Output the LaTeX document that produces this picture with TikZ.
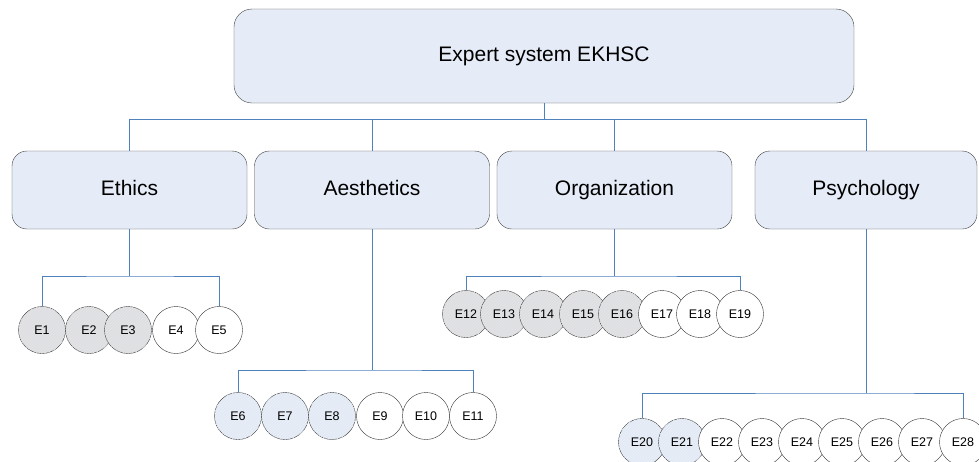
\documentclass[tikz,border=0pt]{standalone}
\usepackage{fontspec}
\setmainfont{Liberation Sans}
\usetikzlibrary{patterns}
\definecolor{boxblue}{RGB}{230,236,247}
\definecolor{linkblue}{RGB}{79,129,189}
\definecolor{donegray}{RGB}{221,223,227}
\definecolor{halfblue}{RGB}{227,233,245}
\tikzset{
  topbox/.style={draw=black!75, fill=boxblue, rounded corners=18pt, minimum width=620pt, minimum height=94pt, text height=15pt, text depth=4pt, font=\fontsize{21}{25}\selectfont},
  catbox/.style={draw=black!75, fill=boxblue, rounded corners=15pt, minimum width=235pt, minimum height=78pt, text height=15pt, text depth=4pt, font=\fontsize{21}{25}\selectfont},
  expert/.style={circle, draw=black!80, fill=white, minimum size=47pt, inner sep=0pt, font=\fontsize{12.5}{14}\selectfont},
  done/.style={expert, fill=donegray, postaction={pattern=north east lines, pattern color=black!10}},
  half/.style={expert, fill=halfblue, postaction={pattern=north east lines, pattern color=linkblue!12}},
  link/.style={draw=linkblue, line width=0.8pt}
}
\begin{document}
\begin{tikzpicture}[x=1pt, y=-1pt]
        \useasboundingbox (0,0) rectangle (979,461);
        % top and categories
        \node[topbox] (top) at (544,56) {Expert system EKHSC};
        \node[catbox] (eth) at (129.5,190) {Ethics};
        \node[catbox] (aes) at (372,190) {Aesthetics};
        \node[catbox] (org) at (614.5,190) {Organization};
        \node[catbox, minimum width=222pt] (psy) at (866,190) {Psychology};
        \draw[link] (top.south) -- ++(0,16) coordinate (bus);
        \draw[link] (eth.north) |- (bus) -| (psy.north);
        \draw[link] (aes.north) -- (aes.north |- bus);
        \draw[link] (org.north) -- (org.north |- bus);
        % experts
        \foreach \x/\n/\s in {42/1/done, 89/2/done, 128/3/done, 176/4/expert, 219/5/expert}
            \node[\s] (e\n) at (\x,330) {E\n};
        \foreach \x/\n/\s in {238/6/half, 285/7/half, 332/8/half, 380/9/expert, 426/10/expert, 473/11/expert}
            \node[\s] (e\n) at (\x,416) {E\n};
        \foreach \x/\n/\s in {466/12/done, 504/13/done, 543/14/done, 583/15/done, 622/16/done, 662/17/expert, 700/18/expert, 740/19/expert}
            \node[\s] (e\n) at (\x,314) {E\n};
        \foreach \x/\n/\s in {642/20/half, 682/21/half, 722/22/expert, 762/23/expert, 802/24/expert, 842/25/expert, 882/26/expert, 922/27/expert, 963/28/expert}
            \node[\s] (e\n) at (\x,442) {E\n};
        \coordinate (ethbus) at (129.5,276);
        \coordinate (aesbus) at (372,370);
        \coordinate (orgbus) at (614.5,276);
        \coordinate (psybus) at (866,393);
        \draw[link] (eth.south) -- (ethbus);
        \draw[link] (e1.north) |- (ethbus) -| (e5.north);
        \draw[link] (aes.south) -- (aesbus);
        \draw[link] (e6.north) |- (aesbus) -| (e11.north);
        \draw[link] (org.south) -- (orgbus);
        \draw[link] (e12.north) |- (orgbus) -| (e19.north);
        \draw[link] (psy.south) -- (psybus);
        \draw[link] (e20.north) |- (psybus) -| (e28.north);
    \end{tikzpicture}
\end{document}
